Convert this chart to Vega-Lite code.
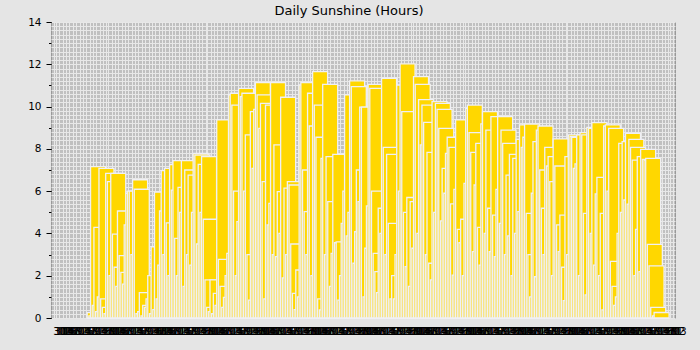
{
"$schema": "https://vega.github.io/schema/vega-lite/v6.json",
"width": 624, "height": 296,
"autosize": "none",
"padding": {"left": 51, "top": 22, "right": 25, "bottom": 32},
"background": "#e5e5e5",
"title": {"text": "Daily Sunshine (Hours)", "anchor": "middle", "dx": -14, "dy": 5, "fontSize": 13, "fontWeight": "normal", "font": "DejaVu Sans", "color": "#000000", "offset": 4},
"data": {"values": [
{"date":"2023-01-24","hours":0.25},{"date":"2023-01-25","hours":0.1},{"date":"2023-01-26","hours":7.16},{"date":"2023-01-27","hours":0.6},{"date":"2023-01-28","hours":4.29},{"date":"2023-01-29","hours":0.3},{"date":"2023-01-30","hours":1.0},{"date":"2023-01-31","hours":7.08},
{"date":"2023-02-01","hours":0.9},{"date":"2023-02-02","hours":0.5},{"date":"2023-02-03","hours":0.2},{"date":"2023-02-04","hours":6.84},{"date":"2023-02-05","hours":6.45},{"date":"2023-02-06","hours":2.0},{"date":"2023-02-07","hours":6.84},{"date":"2023-02-08","hours":3.97},{"date":"2023-02-09","hours":2.4},{"date":"2023-02-10","hours":1.5},{"date":"2023-02-11","hours":5.06},{"date":"2023-02-12","hours":2.95},{"date":"2023-02-13","hours":2.16},{"date":"2023-02-14","hours":1.6},{"date":"2023-02-15","hours":4.4},{"date":"2023-02-16","hours":5.9},{"date":"2023-02-17","hours":6.0},{"date":"2023-02-18","hours":6.0},{"date":"2023-02-19","hours":3.0},{"date":"2023-02-20","hours":6.54},{"date":"2023-02-21","hours":6.09},{"date":"2023-02-22","hours":0.2},{"date":"2023-02-23","hours":0.3},{"date":"2023-02-24","hours":1.2},{"date":"2023-02-25","hours":0.1},{"date":"2023-02-26","hours":0.6},{"date":"2023-02-27","hours":0.5},{"date":"2023-02-28","hours":0.9},
{"date":"2023-03-01","hours":2.0},{"date":"2023-03-02","hours":0.2},{"date":"2023-03-03","hours":3.37},{"date":"2023-03-04","hours":0.4},{"date":"2023-03-05","hours":5.95},{"date":"2023-03-06","hours":0.9},{"date":"2023-03-07","hours":2.5},{"date":"2023-03-08","hours":5.06},{"date":"2023-03-09","hours":6.97},{"date":"2023-03-10","hours":3.0},{"date":"2023-03-11","hours":7.08},{"date":"2023-03-12","hours":4.5},{"date":"2023-03-13","hours":2.0},{"date":"2023-03-14","hours":7.26},{"date":"2023-03-15","hours":6.05},{"date":"2023-03-16","hours":7.44},{"date":"2023-03-17","hours":3.77},{"date":"2023-03-18","hours":2.0},{"date":"2023-03-19","hours":6.18},{"date":"2023-03-20","hours":5.0},{"date":"2023-03-21","hours":7.44},{"date":"2023-03-22","hours":1.5},{"date":"2023-03-23","hours":7.0},{"date":"2023-03-24","hours":3.0},{"date":"2023-03-25","hours":6.76},{"date":"2023-03-26","hours":2.5},{"date":"2023-03-27","hours":5.0},{"date":"2023-03-28","hours":7.79},{"date":"2023-03-29","hours":7.71},{"date":"2023-03-30","hours":3.5},{"date":"2023-03-31","hours":7.27},
{"date":"2023-04-01","hours":5.0},{"date":"2023-04-02","hours":7.63},{"date":"2023-04-03","hours":4.67},{"date":"2023-04-04","hours":1.8},{"date":"2023-04-05","hours":0.5},{"date":"2023-04-06","hours":0.3},{"date":"2023-04-07","hours":1.8},{"date":"2023-04-08","hours":0.2},{"date":"2023-04-09","hours":1.16},{"date":"2023-04-10","hours":0.6},{"date":"2023-04-11","hours":9.37},{"date":"2023-04-12","hours":2.77},{"date":"2023-04-13","hours":1.5},{"date":"2023-04-14","hours":0.5},{"date":"2023-04-15","hours":0.98},{"date":"2023-04-16","hours":2.0},{"date":"2023-04-17","hours":3.06},{"date":"2023-04-18","hours":10.55},{"date":"2023-04-19","hours":10.63},{"date":"2023-04-20","hours":10.07},{"date":"2023-04-21","hours":6.0},{"date":"2023-04-22","hours":2.0},{"date":"2023-04-23","hours":4.56},{"date":"2023-04-24","hours":10.86},{"date":"2023-04-25","hours":10.47},{"date":"2023-04-26","hours":10.63},{"date":"2023-04-27","hours":6.0},{"date":"2023-04-28","hours":8.66},{"date":"2023-04-29","hours":3.0},{"date":"2023-04-30","hours":0.85},
{"date":"2023-05-01","hours":9.76},{"date":"2023-05-02","hours":7.08},{"date":"2023-05-03","hours":9.87},{"date":"2023-05-04","hours":11.13},{"date":"2023-05-05","hours":10.55},{"date":"2023-05-06","hours":8.97},{"date":"2023-05-07","hours":10.15},{"date":"2023-05-08","hours":6.45},{"date":"2023-05-09","hours":0.9},{"date":"2023-05-10","hours":10.07},{"date":"2023-05-11","hours":4.4},{"date":"2023-05-12","hours":5.42},{"date":"2023-05-13","hours":11.13},{"date":"2023-05-14","hours":3.0},{"date":"2023-05-15","hours":8.19},{"date":"2023-05-16","hours":2.9},{"date":"2023-05-17","hours":5.98},{"date":"2023-05-18","hours":4.0},{"date":"2023-05-19","hours":10.44},{"date":"2023-05-20","hours":1.9},{"date":"2023-05-21","hours":6.14},{"date":"2023-05-22","hours":3.0},{"date":"2023-05-23","hours":6.45},{"date":"2023-05-24","hours":6.29},{"date":"2023-05-25","hours":3.5},{"date":"2023-05-26","hours":1.16},{"date":"2023-05-27","hours":0.4},{"date":"2023-05-28","hours":2.27},{"date":"2023-05-29","hours":1.0},{"date":"2023-05-30","hours":11.02},{"date":"2023-05-31","hours":11.13},
{"date":"2023-06-01","hours":7.0},{"date":"2023-06-02","hours":5.03},{"date":"2023-06-03","hours":3.0},{"date":"2023-06-04","hours":10.63},{"date":"2023-06-05","hours":9.08},{"date":"2023-06-06","hours":2.0},{"date":"2023-06-07","hours":11.65},{"date":"2023-06-08","hours":10.07},{"date":"2023-06-09","hours":8.55},{"date":"2023-06-10","hours":0.9},{"date":"2023-06-11","hours":0.38},{"date":"2023-06-12","hours":7.55},{"date":"2023-06-13","hours":11.05},{"date":"2023-06-14","hours":3.0},{"date":"2023-06-15","hours":7.63},{"date":"2023-06-16","hours":5.5},{"date":"2023-06-17","hours":1.5},{"date":"2023-06-18","hours":3.06},{"date":"2023-06-19","hours":7.74},{"date":"2023-06-20","hours":3.56},{"date":"2023-06-21","hours":3.6},{"date":"2023-06-22","hours":0.85},{"date":"2023-06-23","hours":2.0},{"date":"2023-06-24","hours":4.48},{"date":"2023-06-25","hours":6.0},{"date":"2023-06-26","hours":10.55},{"date":"2023-06-27","hours":3.88},{"date":"2023-06-28","hours":5.0},{"date":"2023-06-29","hours":11.22},{"date":"2023-06-30","hours":10.94},
{"date":"2023-07-01","hours":2.59},{"date":"2023-07-02","hours":4.08},{"date":"2023-07-03","hours":7.0},{"date":"2023-07-04","hours":5.5},{"date":"2023-07-05","hours":9.97},{"date":"2023-07-06","hours":9.97},{"date":"2023-07-07","hours":1.0},{"date":"2023-07-08","hours":3.3},{"date":"2023-07-09","hours":5.3},{"date":"2023-07-10","hours":11.05},{"date":"2023-07-11","hours":10.86},{"date":"2023-07-12","hours":6.0},{"date":"2023-07-13","hours":3.06},{"date":"2023-07-14","hours":2.19},{"date":"2023-07-15","hours":1.2},{"date":"2023-07-16","hours":5.19},{"date":"2023-07-17","hours":4.0},{"date":"2023-07-18","hours":11.34},{"date":"2023-07-19","hours":8.07},{"date":"2023-07-20","hours":3.0},{"date":"2023-07-21","hours":7.74},{"date":"2023-07-22","hours":4.48},{"date":"2023-07-23","hours":0.9},{"date":"2023-07-24","hours":2.0},{"date":"2023-07-25","hours":0.9},{"date":"2023-07-26","hours":3.0},{"date":"2023-07-27","hours":11.02},{"date":"2023-07-28","hours":6.0},{"date":"2023-07-29","hours":12.02},{"date":"2023-07-30","hours":9.76},{"date":"2023-07-31","hours":5.0},
{"date":"2023-08-01","hours":2.43},{"date":"2023-08-02","hours":5.7},{"date":"2023-08-03","hours":1.5},{"date":"2023-08-04","hours":5.5},{"date":"2023-08-05","hours":3.3},{"date":"2023-08-06","hours":11.42},{"date":"2023-08-07","hours":11.05},{"date":"2023-08-08","hours":4.0},{"date":"2023-08-09","hours":10.33},{"date":"2023-08-10","hours":8.19},{"date":"2023-08-11","hours":10.07},{"date":"2023-08-12","hours":9.25},{"date":"2023-08-13","hours":3.0},{"date":"2023-08-14","hours":7.83},{"date":"2023-08-15","hours":2.59},{"date":"2023-08-16","hours":1.8},{"date":"2023-08-17","hours":10.23},{"date":"2023-08-18","hours":5.0},{"date":"2023-08-19","hours":10.15},{"date":"2023-08-20","hours":9.87},{"date":"2023-08-21","hours":8.97},{"date":"2023-08-22","hours":4.59},{"date":"2023-08-23","hours":7.08},{"date":"2023-08-24","hours":5.9},{"date":"2023-08-25","hours":7.79},{"date":"2023-08-26","hours":8.55},{"date":"2023-08-27","hours":8.07},{"date":"2023-08-28","hours":5.4},{"date":"2023-08-29","hours":2.03},{"date":"2023-08-30","hours":6.08},{"date":"2023-08-31","hours":9.37},
{"date":"2023-09-01","hours":4.19},{"date":"2023-09-02","hours":3.56},{"date":"2023-09-03","hours":4.67},{"date":"2023-09-04","hours":2.0},{"date":"2023-09-05","hours":6.37},{"date":"2023-09-06","hours":9.92},{"date":"2023-09-07","hours":10.07},{"date":"2023-09-08","hours":8.77},{"date":"2023-09-09","hours":7.83},{"date":"2023-09-10","hours":3.14},{"date":"2023-09-11","hours":6.29},{"date":"2023-09-12","hours":8.26},{"date":"2023-09-13","hours":4.29},{"date":"2023-09-14","hours":2.5},{"date":"2023-09-15","hours":9.18},{"date":"2023-09-16","hours":9.76},{"date":"2023-09-17","hours":4.0},{"date":"2023-09-18","hours":8.89},{"date":"2023-09-19","hours":5.19},{"date":"2023-09-20","hours":3.14},{"date":"2023-09-21","hours":9.52},{"date":"2023-09-22","hours":4.87},{"date":"2023-09-23","hours":2.9},{"date":"2023-09-24","hours":6.08},{"date":"2023-09-25","hours":9.52},{"date":"2023-09-26","hours":4.48},{"date":"2023-09-27","hours":8.89},{"date":"2023-09-28","hours":8.26},{"date":"2023-09-29","hours":3.0},{"date":"2023-09-30","hours":6.76},
{"date":"2023-10-01","hours":3.88},{"date":"2023-10-02","hours":7.74},{"date":"2023-10-03","hours":2.0},{"date":"2023-10-04","hours":7.55},{"date":"2023-10-05","hours":4.0},{"date":"2023-10-06","hours":8.45},{"date":"2023-10-07","hours":5.03},{"date":"2023-10-08","hours":9.13},{"date":"2023-10-09","hours":8.07},{"date":"2023-10-10","hours":8.55},{"date":"2023-10-11","hours":9.17},{"date":"2023-10-12","hours":4.95},{"date":"2023-10-13","hours":3.0},{"date":"2023-10-14","hours":1.0},{"date":"2023-10-15","hours":5.9},{"date":"2023-10-16","hours":8.34},{"date":"2023-10-17","hours":1.95},{"date":"2023-10-18","hours":8.89},{"date":"2023-10-19","hours":9.08},{"date":"2023-10-20","hours":7.0},{"date":"2023-10-21","hours":5.19},{"date":"2023-10-22","hours":3.0},{"date":"2023-10-23","hours":8.07},{"date":"2023-10-24","hours":7.19},{"date":"2023-10-25","hours":7.63},{"date":"2023-10-26","hours":6.45},{"date":"2023-10-27","hours":2.0},{"date":"2023-10-28","hours":8.47},{"date":"2023-10-29","hours":7.19},{"date":"2023-10-30","hours":4.4},{"date":"2023-10-31","hours":3.14},
{"date":"2023-11-01","hours":4.87},{"date":"2023-11-02","hours":2.4},{"date":"2023-11-03","hours":0.82},{"date":"2023-11-04","hours":7.63},{"date":"2023-11-05","hours":3.0},{"date":"2023-11-06","hours":8.66},{"date":"2023-11-07","hours":8.58},{"date":"2023-11-08","hours":8.55},{"date":"2023-11-09","hours":7.08},{"date":"2023-11-10","hours":7.29},{"date":"2023-11-11","hours":8.66},{"date":"2023-11-12","hours":2.0},{"date":"2023-11-13","hours":8.77},{"date":"2023-11-14","hours":8.66},{"date":"2023-11-15","hours":4.95},{"date":"2023-11-16","hours":1.09},{"date":"2023-11-17","hours":9.02},{"date":"2023-11-18","hours":8.97},{"date":"2023-11-19","hours":4.0},{"date":"2023-11-20","hours":9.24},{"date":"2023-11-21","hours":2.5},{"date":"2023-11-22","hours":5.87},{"date":"2023-11-23","hours":6.65},{"date":"2023-11-24","hours":2.0},{"date":"2023-11-25","hours":4.95},{"date":"2023-11-26","hours":0.38},{"date":"2023-11-27","hours":9.08},{"date":"2023-11-28","hours":9.13},{"date":"2023-11-29","hours":6.0},{"date":"2023-11-30","hours":8.97},
{"date":"2023-12-01","hours":2.68},{"date":"2023-12-02","hours":1.5},{"date":"2023-12-03","hours":0.6},{"date":"2023-12-04","hours":1.0},{"date":"2023-12-05","hours":4.0},{"date":"2023-12-06","hours":8.26},{"date":"2023-12-07","hours":5.0},{"date":"2023-12-08","hours":8.34},{"date":"2023-12-09","hours":5.58},{"date":"2023-12-10","hours":8.73},{"date":"2023-12-11","hours":5.39},{"date":"2023-12-12","hours":8.45},{"date":"2023-12-13","hours":8.07},{"date":"2023-12-14","hours":7.47},{"date":"2023-12-15","hours":2.0},{"date":"2023-12-16","hours":4.19},{"date":"2023-12-17","hours":7.63},{"date":"2023-12-18","hours":2.19},{"date":"2023-12-19","hours":7.98},{"date":"2023-12-20","hours":7.5},{"date":"2023-12-21","hours":7.47},{"date":"2023-12-22","hours":7.55},{"date":"2023-12-23","hours":3.48},{"date":"2023-12-24","hours":2.47},{"date":"2023-12-25","hours":0.5},{"date":"2023-12-26","hours":0.1},{"date":"2023-12-27","hours":0.26}
]},
"layer": [
{"mark": {"type": "bar", "width": 15, "fill": "#FFD700", "stroke": "#f0f0f5", "strokeWidth": 1.3},
 "encoding": {
  "x": {"field": "date", "type": "temporal",
        "scale": {"type": "utc", "nice": false, "domain": [{"year": 2023, "month": 1, "date": 1, "utc": true}, {"year": 2024, "month": 1, "date": 1, "utc": true}]},
        "axis": {"orient": "bottom", "title": null, "tickCount": {"interval": "day", "step": 2}, "grid": true, "gridColor": "#e8e8e8", "gridWidth": 1, "gridOpacity": 1, "domain": false, "ticks": false, "labels": false}},
  "y": {"field": "hours", "type": "quantitative",
        "scale": {"domain": [0, 14], "nice": false, "zero": true},
        "axis": {"orient": "left", "title": null, "tickCount": 70, "grid": true, "gridColor": "#e8e8e8", "gridWidth": 1, "gridOpacity": 1, "labels": false, "ticks": false, "domain": false}}
 }},
{"mark": {"type": "point", "opacity": 0},
 "encoding": {
  "y": {"field": "hours", "type": "quantitative",
        "scale": {"domain": [0, 14], "nice": false, "zero": true},
        "axis": {"orient": "left", "title": null, "values": [0,1,2,3,4,5,6,7,8,9,10,11,12,13,14], "grid": false, "labels": false, "domain": false, "ticks": true, "tickSize": 2.5, "tickColor": "#000000", "tickWidth": 1}}
 }},
{"mark": {"type": "point", "opacity": 0},
 "encoding": {
  "y": {"field": "hours", "type": "quantitative",
        "scale": {"domain": [0, 14], "nice": false, "zero": true},
        "axis": {"orient": "left", "title": null, "values": [0,2,4,6,8,10,12,14], "grid": false, "domain": false, "ticks": true, "tickSize": 5, "tickColor": "#000000", "tickWidth": 1, "labelPadding": 5, "labelFont": "DejaVu Sans", "labelFontSize": 10.5, "labelColor": "#000000"}}
 }},
{"mark": {"type": "point", "opacity": 0},
 "encoding": {
  "x": {"field": "date", "type": "temporal",
        "scale": {"type": "utc", "nice": false, "domain": [{"year": 2023, "month": 1, "date": 1, "utc": true}, {"year": 2024, "month": 1, "date": 1, "utc": true}]},
        "axis": {"orient": "bottom", "title": null, "tickCount": {"interval": "day", "step": 1}, "format": "%d", "grid": false, "domain": false, "ticks": false, "tickSize": 0, "labelPadding": 8, "labelAlign": "left", "labelBaseline": "top", "labelFlush": false, "labelOverlap": false, "labelBound": false, "labelFont": "DejaVu Sans", "labelFontSize": 10, "labelColor": "#000000"}}
 }}
],
"resolve": {"axis": {"x": "independent", "y": "independent"}},
"config": {
  "view": {"fill": "#c0c0c0", "stroke": "#999999", "strokeWidth": 1},
  "font": "DejaVu Sans"
}
}
